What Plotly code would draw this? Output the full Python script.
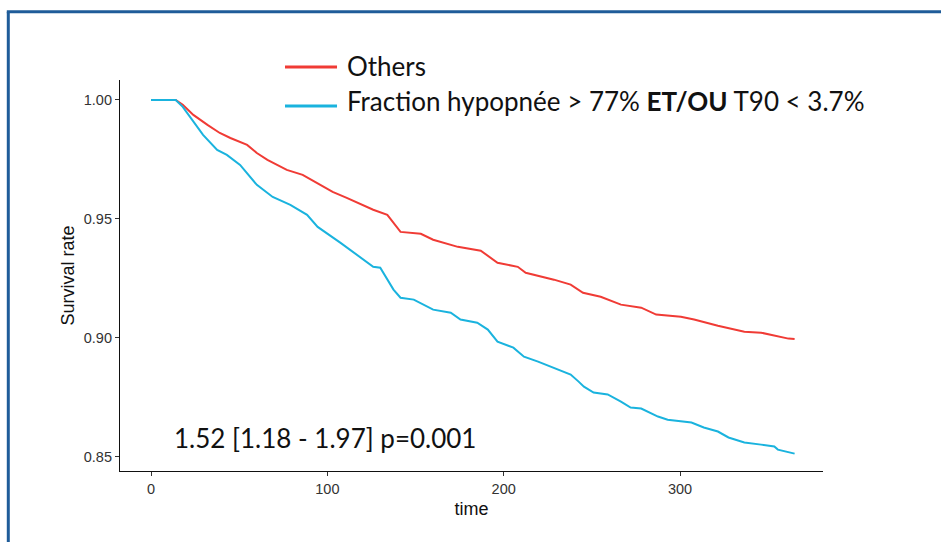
import plotly.graph_objects as go

# --- Data (time in days, survival probability) ---
time_others = [0, 14, 18, 24, 32, 39, 45, 54.5, 60, 66, 77, 86, 94, 103, 111, 126, 134,
               141.5, 153, 160, 174, 187, 196.5, 208, 212.5, 222.5, 228.5, 238, 245, 255,
               266.5, 278, 286.5, 300.5, 308, 321.5, 336.5, 346, 355.5, 361.5, 365]
surv_others = [1.0, 1.0, 0.998, 0.9937, 0.9895, 0.9861, 0.984, 0.9811, 0.9777, 0.9748,
               0.9706, 0.9685, 0.9651, 0.9613, 0.9588, 0.9538, 0.9517, 0.9445, 0.9437,
               0.9412, 0.9382, 0.9366, 0.9315, 0.9298, 0.9273, 0.9256, 0.9244, 0.9223,
               0.9189, 0.9172, 0.9139, 0.9126, 0.9097, 0.9088, 0.9076, 0.905, 0.9025,
               0.9021, 0.9004, 0.8996, 0.8994]

time_hypo = [0, 14, 18, 24, 29.5, 37.5, 43, 50.5, 54.5, 60, 69, 79, 88.5, 94.5, 107.5, 115,
             126, 130, 134, 137.5, 141.5, 149, 160, 170, 175.5, 185, 191, 196.5, 205.5,
             211.5, 219.5, 228.5, 238, 242.5, 245.5, 251, 259, 266.5, 272, 278, 287.5,
             293, 306.5, 313.5, 321.5, 327.5, 336.5, 346, 353.5, 355.5, 362, 365]
surv_hypo = [1.0, 1.0, 0.9971, 0.9908, 0.9853, 0.979, 0.9769, 0.9727, 0.9693, 0.9643,
             0.9592, 0.9559, 0.9517, 0.9466, 0.9399, 0.9357, 0.9298, 0.9294, 0.9244,
             0.9202, 0.9168, 0.916, 0.9118, 0.9105, 0.9076, 0.9063, 0.9034, 0.8983,
             0.8958, 0.892, 0.8899, 0.8874, 0.8845, 0.8815, 0.8794, 0.8769, 0.8761,
             0.8731, 0.8706, 0.8702, 0.8668, 0.8655, 0.8643, 0.8622, 0.8605, 0.858,
             0.8559, 0.855, 0.8542, 0.8529, 0.8517, 0.8512]

x_ticks = [0, 100, 200, 300]
y_ticks = [0.85, 0.90, 0.95, 1.00]

label_others = "Others"
label_hypo = "Fraction hypopnée > 77% <b>ET/OU</b> T90 < 3.7%"
hr_text = "1.52 [1.18 - 1.97] p=0.001"

RED = "#F03B35"
BLUE = "#1AB3DE"
FRAME = "#1F5C99"

fig = go.Figure()
fig.add_trace(go.Scatter(x=time_others, y=surv_others, mode="lines", name=label_others,
                         line=dict(color=RED, width=2), showlegend=False))
fig.add_trace(go.Scatter(x=time_hypo, y=surv_hypo, mode="lines", name=label_hypo,
                         line=dict(color=BLUE, width=2), showlegend=False))

# frame around the slide: only the left and top edges are inside the picture
fig.add_shape(type="line", xref="paper", yref="paper",
              x0=-0.1589, x1=-0.1589, y0=-0.25, y1=1.1747,
              line=dict(color=FRAME, width=3), layer="above")
fig.add_shape(type="line", xref="paper", yref="paper",
              x0=-0.1610, x1=1.25, y0=1.1747, y1=1.1747,
              line=dict(color=FRAME, width=3), layer="above")

# manual legend
for yk, col in [(1.0332, RED), (0.9335, BLUE)]:
    fig.add_shape(type="line", xref="paper", yref="paper",
                  x0=0.2347, x1=0.3087, y0=yk, y1=yk,
                  line=dict(color=col, width=3))
legend_font = dict(family="Lato, Open Sans, sans-serif", size=26, color="#111111")
fig.add_annotation(xref="paper", yref="paper", x=0.3201, y=1.0358, text=label_others,
                   showarrow=False, xanchor="left", yanchor="middle", font=legend_font)
fig.add_annotation(xref="paper", yref="paper", x=0.3201, y=0.9463, text=label_hypo,
                   showarrow=False, xanchor="left", yanchor="middle", font=legend_font)

fig.add_annotation(xref="paper", yref="paper", x=0.074, y=0.0844, text=hr_text,
                   showarrow=False, xanchor="left", yanchor="middle", font=legend_font)

axis_common = dict(showgrid=False, zeroline=False, showline=True, linecolor="#111111",
                   linewidth=1.2, ticks="outside", ticklen=4, tickwidth=1,
                   tickcolor="#333333", automargin=False,
                   tickfont=dict(family="Liberation Sans, Arial, sans-serif", size=14.5,
                                 color="#333333"))

fig.update_layout(
    width=941, height=542,
    margin=dict(l=120, r=118, t=80, b=71),
    paper_bgcolor="white", plot_bgcolor="white",
    xaxis=dict(range=[-17.6, 381.1], tickvals=x_ticks, ticktext=[str(v) for v in x_ticks],
               title=dict(text="time", standoff=6,
                          font=dict(family="Liberation Sans, Arial, sans-serif", size=18,
                                    color="#111111")),
               **axis_common),
    yaxis=dict(range=[0.8439, 1.0084], tickvals=y_ticks,
               ticktext=[f"{v:.2f}" for v in y_ticks],
               title=dict(text="Survival rate", standoff=4,
                          font=dict(family="Liberation Sans, Arial, sans-serif", size=18,
                                    color="#111111")),
               **axis_common),
)

fig.write_html("out.html")
